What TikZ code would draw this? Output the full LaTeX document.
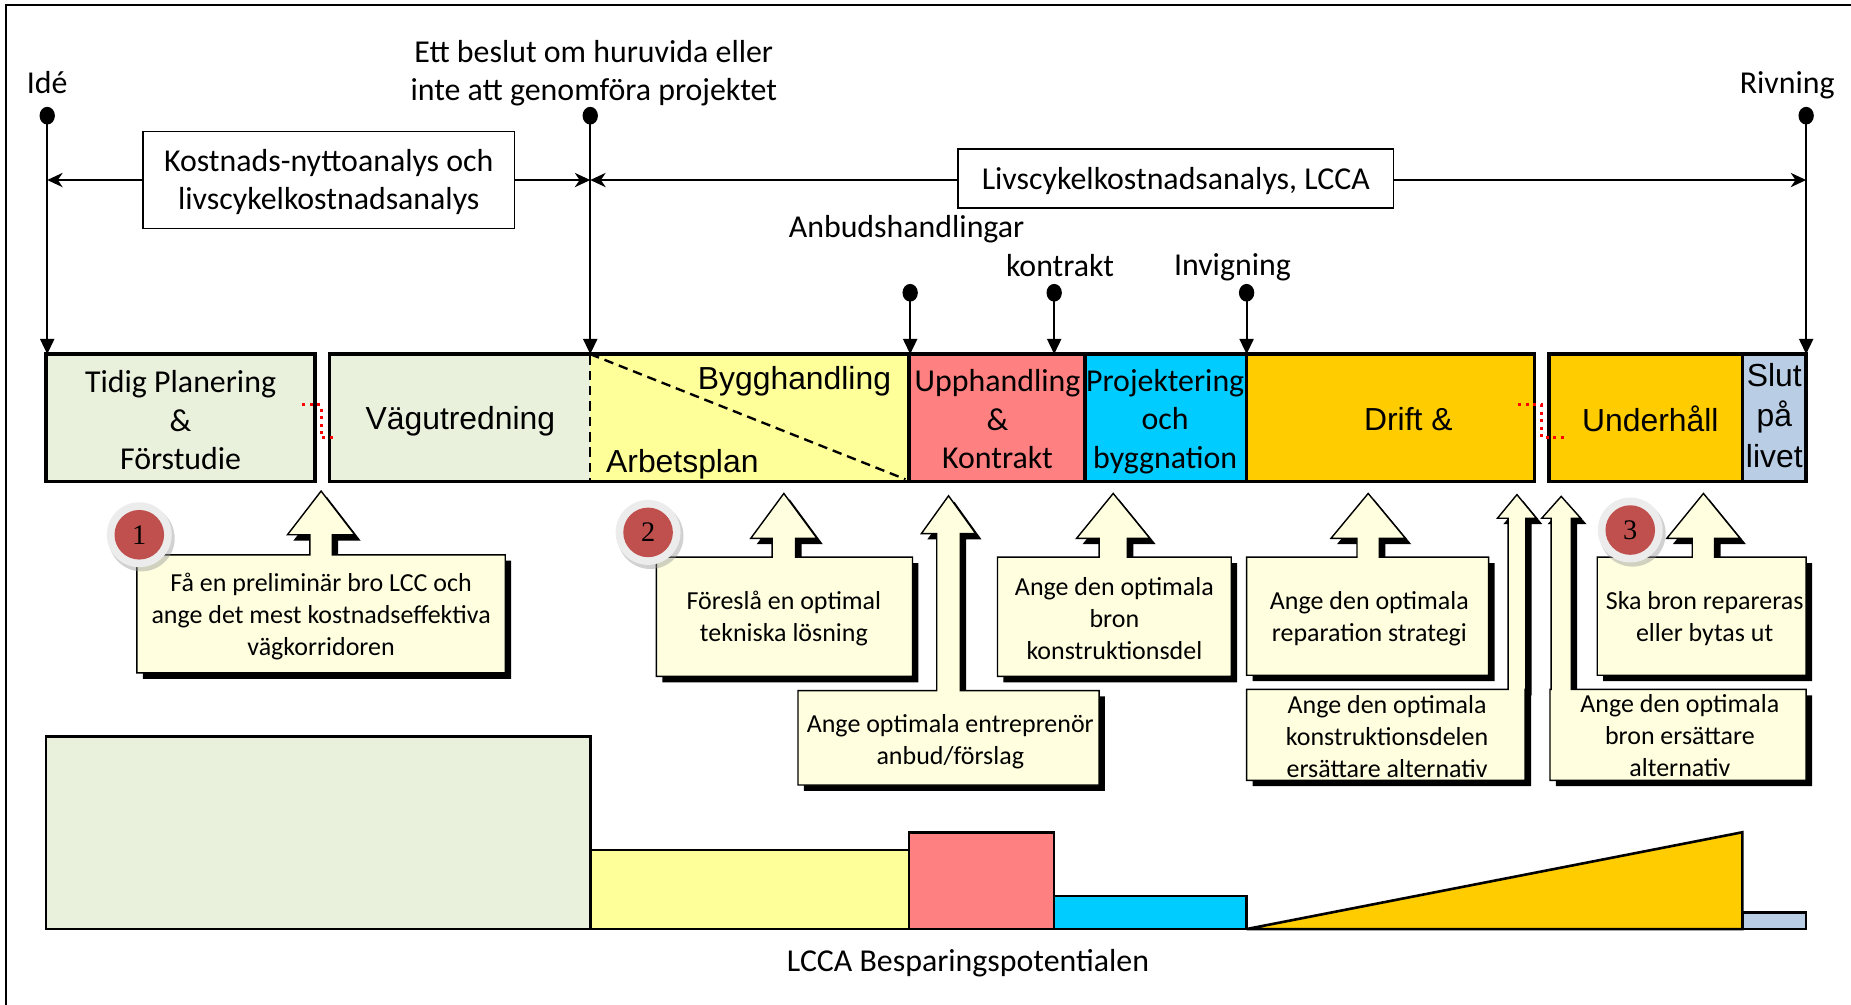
\documentclass[tikz,border=0pt]{standalone}
\usepackage{fontspec}
\setmainfont{Carlito}
\newfontfamily\arialf{Liberation Sans}
\newfontfamily\timesf{Liberation Serif}
\usetikzlibrary{arrows.meta}

\definecolor{phgreen}{RGB}{233,240,220}
\definecolor{phyellow}{RGB}{255,255,153}
\definecolor{phpink}{RGB}{255,128,128}
\definecolor{phcyan}{RGB}{0,204,255}
\definecolor{phorange}{RGB}{255,204,0}
\definecolor{phblue}{RGB}{185,205,229}
\definecolor{callfill}{RGB}{255,255,224}
\definecolor{badgered}{RGB}{192,80,77}
\definecolor{badgering}{RGB}{236,236,236}

\tikzset{
  lbl/.style={font=\fontsize{27}{32}\selectfont, inner sep=0pt, align=center},
  albl/.style={font=\arialf\fontsize{27}{34}\selectfont, inner sep=0pt, align=center},
  ctext/.style={font=\fontsize{22}{27}\selectfont, inner sep=0pt, align=center},
  spanbox/.style={draw=black, line width=1.3pt, inner sep=0pt, align=center,
                  font=\fontsize{27}{32}\selectfont},
  phase/.style={draw=black, line width=3pt},
  tick/.style={line width=1.6pt, -{Triangle[length=13pt,width=12pt]}},
  span/.style={line width=2pt, -{Stealth[length=13pt,width=12pt,inset=4pt]}},
  joint/.style={red, line width=2.6pt, dash pattern=on 2.6pt off 3.8pt},
  split/.style={line width=2pt, dash pattern=on 8pt off 5pt},
  bar/.style={draw=black, line width=2.2pt},
  callout/.style={fill=callfill, draw=black, line width=1.2pt},
}

% callout: box x1,y1,x2,y2; arrow centre x, shaft half width, head half width,
% head base y, apex y
\newcommand\calloutbox[9]{%
  \fill[black, shift={(5,5)}] (#1,#2) -- ({#5-#6},#2) -- ({#5-#6},#8) -- ({#5-#7},#8)
    -- (#5,#9) -- ({#5+#7},#8) -- ({#5+#6},#8) -- ({#5+#6},#2) -- (#3,#2)
    -- (#3,#4) -- (#1,#4) -- cycle;
  \path[callout] (#1,#2) -- ({#5-#6},#2) -- ({#5-#6},#8) -- ({#5-#7},#8)
    -- (#5,#9) -- ({#5+#7},#8) -- ({#5+#6},#8) -- ({#5+#6},#2) -- (#3,#2)
    -- (#3,#4) -- (#1,#4) -- cycle;
}

% numbered badge: name, centre, number
\newcommand\badge[3]{%
  \fill[black!40, opacity=0.45] ([shift={(2,3)}]#2) circle (28pt);
  \fill[badgering] (#2) circle (27.5pt);
  \node[circle, fill=badgered, minimum size=42pt, inner sep=0pt,
        font=\timesf\fontsize{24}{24}\selectfont] (#1) at (#2) {#3};
}

\begin{document}
\begin{tikzpicture}[x=1pt,y=-1pt]
\useasboundingbox (0,0) rectangle (1568,851);
\fill[white] (0,0) rectangle (1568,851);

% frame
\draw[line width=1.5pt] (5,851) -- (5,4.5) -- (1568,4.5);

% ---------- phase bar ----------
\filldraw[phase, fill=phgreen] (39,300) rectangle (267,408);
\fill[phgreen] (279,300) rectangle (500,408);
\fill[phyellow] (500,300) rectangle (770,408);
\draw[phase] (279,300) rectangle (770,408);
\draw[split] (500,301) -- (500,407);
\draw[split] (500,300) -- (767,406);
\filldraw[phase, fill=phpink] (770,300) rectangle (919,408);
\filldraw[phase, fill=phcyan] (919,300) rectangle (1056,408);
\filldraw[phase, fill=phorange] (1056,300) rectangle (1300,408);
\filldraw[phase, fill=phorange] (1312,300) rectangle (1476,408);
\filldraw[phase, fill=phblue] (1476,300) rectangle (1530,408);

\node[lbl, font=\fontsize{27}{32.5}\selectfont] (p1) at (153,356) {Tidig Planering\\\&\\Förstudie};
\node[albl] (p2) at (390,357) {Vägutredning};
\node[albl] (p3a) at (673,323) {Bygghandling};
\node[albl] (p3b) at (578,393) {Arbetsplan};
\node[lbl, font=\fontsize{27}{32.5}\selectfont] (p4) at (845,355) {Upphandling\\\&\\Kontrakt};
\node[lbl, font=\fontsize{27}{32.5}\selectfont] (p5) at (987,357) {Projektering\\och\\byggnation};
\node[albl] (p6) at (1193,355) {Drift \&};
\node[albl] (p7) at (1398,355) {Underhåll};
\node[albl] (p8) at (1503,352) {Slut\\på\\livet};

% dotted joints across the breaks in the bar
\coordinate (j1a) at (256,343); \coordinate (j1b) at (284,371);
\coordinate (j2a) at (1286,343); \coordinate (j2b) at (1326,371);
\draw[joint] (j1a) -- (272,343) -- (272,371) -- (j1b);
\draw[joint] (j2a) -- (1306,343) -- (1306,371) -- (j2b);

% ---------- milestones ----------
\coordinate (ide) at (40,98);   \coordinate (ideB) at (40,300);
\coordinate (dec) at (500,98);  \coordinate (decB) at (500,300);
\coordinate (riv) at (1530,98); \coordinate (rivB) at (1530,300);
\coordinate (anb) at (771,248); \coordinate (anbB) at (771,300);
\coordinate (kon) at (893,248); \coordinate (konB) at (893,300);
\coordinate (inv) at (1056,248); \coordinate (invB) at (1056,300);

\foreach \m in {ide,dec,riv,anb,kon,inv}{
  \draw[tick] (\m) -- (\m B);
  \fill (\m) ellipse [x radius=6.5pt, y radius=7.5pt];
}

\node[lbl] (ideT) at (40,70) {Idé};
\node[lbl] (decT) at (503,62) {Ett beslut om huruvida eller\\inte att genomföra projektet};
\node[lbl] (rivT) at (1514,72) {Rivning};
\node[lbl] (anbT) at (768,194) {Anbudshandlingar};
\node[lbl] (konT) at (898,225) {kontrakt};
\node[lbl] (invT) at (1044,226) {Invigning};

% analysis spans
\node[spanbox, minimum width=315pt, minimum height=82pt] (kn) at (278.5,152.5) {};
\node[lbl] (knT) at (278.5,154.5) {Kostnads-nyttoanalys och\\livscykelkostnadsanalys};
\node[spanbox, minimum width=369pt, minimum height=50pt] (lc) at (996,151) {};
\node[lbl] (lcT) at (996,153.5) {Livscykelkostnadsanalys, LCCA};
\coordinate (knL) at (40,152.5);  \coordinate (knR) at (500,152.5);
\coordinate (lcL) at (500,152.5); \coordinate (lcR) at (1530,152.5);
\draw[span] (kn.west |- knL) -- (knL);
\draw[span] (kn.east |- knR) -- (knR);
\draw[span] (lc.west |- lcL) -- (lcL);
\draw[span] (lc.east |- lcR) -- (lcR);

% ---------- callouts ----------
\calloutbox{116}{470}{428}{570}{272}{9.5}{28.5}{453}{416}
\calloutbox{556}{472}{773}{573}{664}{10}{28}{456}{418}
\calloutbox{676}{585}{931}{665}{803.5}{10}{23}{452}{420}
\calloutbox{845}{472}{1043}{573}{943}{12}{31}{456}{418}
\calloutbox{1056}{472}{1261}{572}{1159}{9.5}{31.5}{456}{418}
\calloutbox{1056}{584}{1292}{661}{1285}{7.5}{16.5}{439}{419}
\calloutbox{1353}{472}{1530}{572}{1443}{9.5}{31}{456}{418}
\calloutbox{1313}{584}{1530}{661}{1322.5}{8.5}{16.5}{439}{420.5}

\node[ctext] (t1) at (272,522) {Få en preliminär bro LCC och\\ange det mest kostnadseffektiva\\vägkorridoren};
\node[ctext] (t2) at (664,524) {Föreslå en optimal\\tekniska lösning};
\node[ctext] (t3) at (805,628) {Ange optimala entreprenör\\anbud/förslag};
\node[ctext] (t4) at (944,524) {Ange den optimala\\bron\\konstruktionsdel};
\node[ctext] (t5) at (1160,524) {Ange den optimala\\reparation strategi};
\node[ctext] (t6) at (1175,624) {Ange den optimala\\konstruktionsdelen\\ersättare alternativ};
\node[ctext] (t7) at (1444,524) {Ska bron repareras\\eller bytas ut};
\node[ctext] (t8) at (1423,623) {Ange den optimala\\bron ersättare\\alternativ};

\badge{b1}{118,453}{1}
\badge{b2}{549,451}{2}
\badge{b3}{1381,449}{3}

% ---------- savings potential ----------
\filldraw[bar, fill=phgreen] (39,624) rectangle (500,787);
\filldraw[bar, fill=phyellow] (500,720) rectangle (770,787);
\filldraw[bar, fill=phpink] (770,705) rectangle (893,787);
\filldraw[bar, fill=phcyan] (893,759) rectangle (1056,787);
\filldraw[bar, fill=phorange, line join=miter] (1056,787) -- (1476,705) -- (1476,787) -- cycle;
\filldraw[bar, fill=phblue] (1476,773) rectangle (1530,787);
\node[lbl] (sav) at (820,816) {LCCA Besparingspotentialen};
\end{tikzpicture}
\end{document}
